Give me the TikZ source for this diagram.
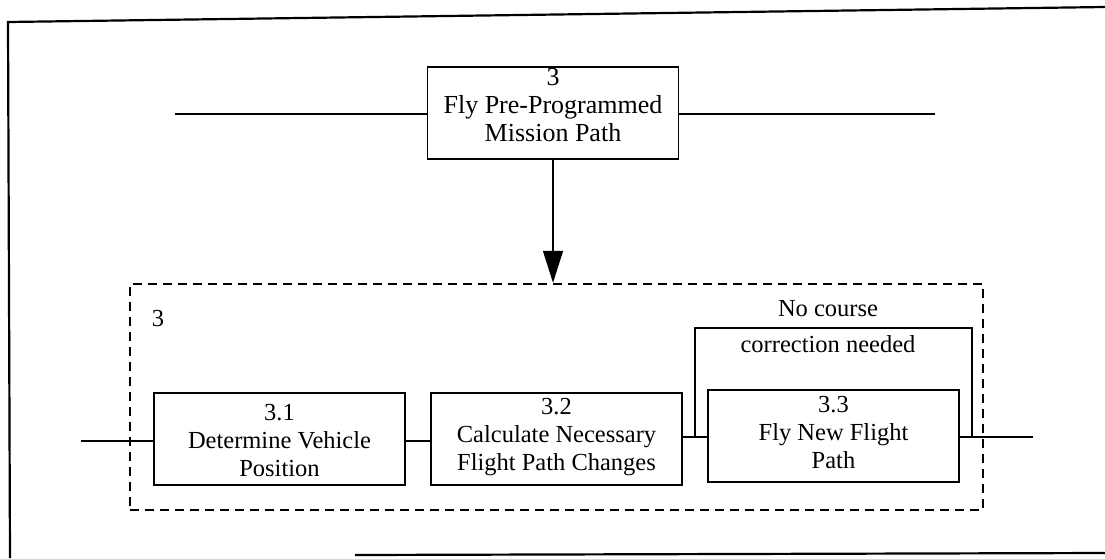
\documentclass[tikz,border=0pt]{standalone}
\usepackage{fontspec}
\setmainfont{Liberation Serif}
\usetikzlibrary{arrows.meta}
\begin{document}
\begin{tikzpicture}[x=1pt,y=-1pt,
  procbox/.style={draw, line width=1.8pt, minimum width=251pt, inner sep=0pt},
  lbl/.style={align=center, font=\fontsize{24.5}{28}\selectfont, inner sep=0pt},
  toplbl/.style={align=center, font=\fontsize{26}{28}\selectfont, inner sep=0pt},
  conn/.style={line width=1.4pt},
  frame/.style={line width=2.2pt},
  dashbox/.style={line width=2.4pt, dash pattern=on 9pt off 6pt}
]
\useasboundingbox (0,0) rectangle (1105,558);
% outer frame
\coordinate (f1) at (1105,7);
\coordinate (f2) at (8,22);
\coordinate (f3) at (10,558);
\draw[frame] (f1) -- (f2) -- (f3);
\coordinate (g1) at (355,555);
\coordinate (g2) at (1105,553);
\draw[frame] (g1) -- (g2);

% top box
\node[procbox, minimum height=92pt] (top) at (553,113) {};
\node[toplbl] (toptxt) at (553,105) {3\\Fly Pre-Programmed\\Mission Path};
\coordinate (tin) at (175,114);
\coordinate (tout) at (935,114);
\draw[conn] (tin) -- (tin -| top.west);
\draw[conn] (top.east |- tout) -- (tout);

% dashed decomposition box
\node[dashbox, draw, minimum width=853pt, minimum height=226pt, inner sep=0pt] (dbox) at (556.5,397) {};
\node[lbl] (dlbl) at (158,318) {3};
\draw[conn, -{Triangle[length=32pt,width=20pt]}] (top.south) -- (top.south |- dbox.north);

% sub boxes
\node[procbox, minimum height=92pt] (b31) at (279.5,439) {};
\node[procbox, minimum height=92pt] (b32) at (556.5,439) {};
\node[procbox, minimum height=92pt] (b33) at (833.5,436) {};
\node[lbl] (t31) at (279.5,440) {3.1\\Determine Vehicle\\Position};
\node[lbl] (t32) at (556.5,437) {3.2\\Calculate Necessary\\Flight Path Changes};
\node[lbl] (t33) at (833.5,432) {3.3\\Fly New Flight\\Path};

\coordinate (in31) at (81,441);
\draw[conn] (in31) -- (in31 -| b31.west);
\draw[conn] (b31.east |- in31) -- (b32.west |- in31);
\coordinate (j1) at (695,437);
\draw[conn] (b32.east |- j1) -- (b33.west |- j1);
\coordinate (j2) at (972,437);
\coordinate (out33) at (1033,437);
\draw[conn] (b33.east |- j2) -- (out33);
% bypass
\coordinate (by1) at (695,328);
\coordinate (by2) at (972,328);
\draw[conn] (j1) -- (by1) -- (by2) -- (j2);
\node[lbl] (nc1) at (828,309) {No course};
\node[lbl] (nc2) at (828,344) {correction needed};
\end{tikzpicture}
\end{document}
